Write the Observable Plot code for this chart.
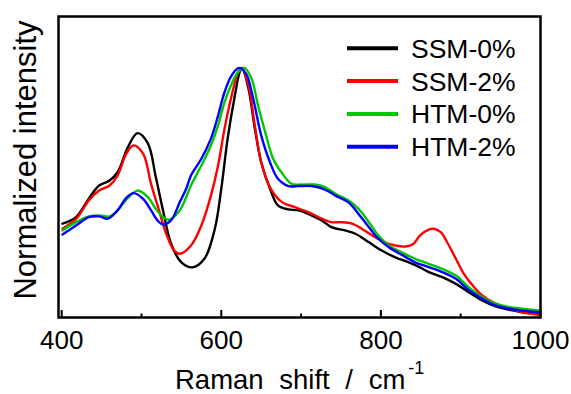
<!DOCTYPE html>
<html><head><meta charset="utf-8">
<script src="https://cdn.jsdelivr.net/npm/d3@7"></script>
<script src="https://cdn.jsdelivr.net/npm/@observablehq/plot@0.6"></script>
<style>body{margin:0;background:#fff}#chart{width:571px;height:394px}</style>
</head><body><div id="chart"></div>
<script>
// Series names and colours
const seriesNames = ["SSM-0%", "SSM-2%", "HTM-0%", "HTM-2%"];
const seriesColors = ["#000000", "#ff0000", "#00c800", "#0000ff"];

// SSM-0% (Raman shift cm^-1, normalized intensity)
const ssm0X = [401,418,434,447,460,470,483,495,508,518,527,537,550,564,579,592,600,608,617,623,626,634,642,650,661,671,684,697,713,726,738,755,768,785,801,818,835,849,860,877,894,910,927,944,961,977,998];
const ssm0Y = [0.374,0.400,0.474,0.526,0.546,0.579,0.679,0.735,0.694,0.559,0.427,0.295,0.220,0.200,0.235,0.355,0.514,0.714,0.885,0.978,0.995,0.913,0.754,0.619,0.514,0.447,0.431,0.427,0.407,0.387,0.360,0.347,0.334,0.300,0.267,0.240,0.220,0.200,0.181,0.161,0.134,0.101,0.068,0.044,0.031,0.021,0.015];

// SSM-2%
const ssm2X = [401,418,434,447,460,470,481,490,502,512,522,531,541,548,562,575,587,596,604,613,621,625,634,642,650,661,676,692,709,726,738,751,764,776,793,805,818,831,841,849,860,866,875,883,894,904,915,927,944,961,977,998];
const ssm2Y = [0.354,0.393,0.467,0.506,0.526,0.566,0.653,0.686,0.653,0.533,0.427,0.334,0.267,0.254,0.287,0.367,0.486,0.606,0.752,0.885,0.978,0.995,0.925,0.766,0.619,0.519,0.460,0.440,0.420,0.394,0.380,0.380,0.374,0.354,0.320,0.300,0.287,0.283,0.294,0.327,0.350,0.354,0.340,0.300,0.234,0.174,0.128,0.088,0.055,0.035,0.021,0.011];

// HTM-0%
const htm0X = [401,418,434,447,460,470,483,495,508,518,527,535,548,556,562,575,587,596,604,613,621,629,638,646,655,665,676,688,701,717,730,743,759,772,785,797,810,826,843,860,877,894,910,927,944,961,977,998];
const htm0Y = [0.347,0.380,0.403,0.407,0.403,0.427,0.477,0.506,0.480,0.433,0.400,0.390,0.427,0.480,0.526,0.606,0.686,0.766,0.858,0.932,0.978,0.995,0.952,0.845,0.739,0.633,0.576,0.533,0.530,0.530,0.520,0.493,0.467,0.433,0.380,0.327,0.287,0.260,0.234,0.214,0.194,0.167,0.121,0.081,0.055,0.041,0.035,0.028];

// HTM-2%
const htm2X = [401,418,434,447,458,470,481,490,502,512,520,527,537,548,556,562,575,587,596,604,613,622,631,640,650,661,671,684,697,713,730,743,759,772,785,797,810,826,843,860,877,894,910,927,944,961,977,998];
const htm2Y = [0.331,0.367,0.400,0.403,0.394,0.427,0.477,0.496,0.473,0.427,0.387,0.371,0.387,0.460,0.513,0.566,0.633,0.713,0.805,0.898,0.965,0.995,0.972,0.872,0.726,0.619,0.553,0.524,0.524,0.524,0.510,0.486,0.460,0.413,0.360,0.314,0.280,0.250,0.220,0.201,0.181,0.154,0.110,0.075,0.048,0.035,0.028,0.021];

// Axis ticks
const majorTicks = [400, 600, 800, 1000];
const minorTicks = [500, 700, 900];
const tickLabels = [400, 600, 800, 1000];
const xTitle = "Raman shift / cm";
const xTitleSup = "-1";
const yTitle = "Normalized intensity";

const seriesX = [ssm0X, ssm2X, htm0X, htm2X];
const seriesY = [ssm0Y, ssm2Y, htm0Y, htm2Y];
const rows = seriesNames.flatMap((name, k) =>
  seriesX[k].map((w, i) => ({series: name, w, v: seriesY[k][i]})));

const FONT = "'Liberation Sans', Helvetica, Arial, sans-serif";

const plot = Plot.plot({
  width: 571, height: 394,
  marginLeft: 58, marginRight: 31, marginTop: 16, marginBottom: 77,
  style: {fontFamily: FONT, background: "white", overflow: "visible"},
  x: {domain: [396, 1000]},
  y: {domain: [0, 1.2], axis: null},
  color: {domain: seriesNames, range: seriesColors},
  marks: [
    Plot.line(rows, {x: "w", y: "v", z: "series", stroke: "series", strokeWidth: 2.4, curve: "catmull-rom"}),
    Plot.axisX(majorTicks, {tickSize: -7, tickFormat: () => "", strokeWidth: 2, label: null}),
    Plot.axisX(minorTicks, {tickSize: -3.5, tickFormat: () => "", strokeWidth: 2, label: null}),
    Plot.axisX(tickLabels, {tickSize: 0, tickPadding: 13.5, fontSize: 26, fill: "black", label: null, tickFormat: d => String(d)}),
    Plot.frame({stroke: "black", strokeWidth: 2.5})
  ]
});

const svg = d3.select(plot);
// legend
const lg = svg.append("g").attr("text-anchor", "start");
seriesNames.forEach((n, i) => {
  const y = 48.3 + i * 32.8;
  lg.append("line").attr("x1", 347).attr("x2", 398).attr("y1", y).attr("y2", y)
    .attr("stroke", seriesColors[i]).attr("stroke-width", 4);
  lg.append("text").attr("x", 411).attr("y", y + 9.5).attr("font-size", 26.5)
    .attr("text-anchor", "start").attr("fill", "black").text(n);
});
// x title
const xl = svg.append("text").attr("x", 175).attr("y", 388.5).attr("text-anchor", "start")
  .attr("font-size", 27.5).attr("fill", "black").style("word-spacing", "8px");
xl.append("tspan").text(xTitle);
xl.append("tspan").attr("dx", 3).attr("dy", -15).attr("font-size", 18).text(xTitleSup);
// y title
svg.append("text").attr("transform", "translate(36,160) rotate(-90)")
  .attr("text-anchor", "middle").attr("font-size", 31).attr("fill", "black").text(yTitle);

document.getElementById("chart").appendChild(plot);
</script>
</body></html>
